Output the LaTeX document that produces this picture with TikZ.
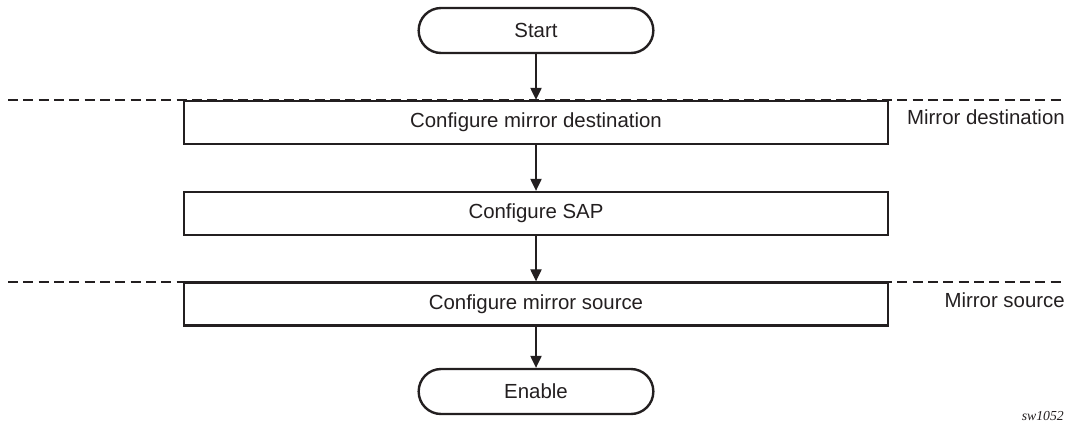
\documentclass[tikz,border=0pt]{standalone}
\usepackage{fontspec}
\setmainfont{Liberation Sans}
\newfontfamily\tagfont{Liberation Serif}
\usetikzlibrary{arrows.meta}
\definecolor{ink}{HTML}{231F20}

\begin{document}
\begin{tikzpicture}[x=0.75pt,y=-0.75pt,color=ink]
\tikzstyle{every node}=[font=\fontsize{15.3}{18}\selectfont,inner sep=0pt,text=ink];
\tikzstyle{term}=[draw,line width=1.8pt,fill=white,rounded corners=16.8pt,minimum width=176pt,minimum height=33.75pt];
\tikzstyle{task}=[draw,line width=1.8pt,fill=white,minimum width=528pt,minimum height=32.25pt];
\tikzstyle{flow}=[line width=0.9pt,-{Triangle[length=9pt,width=8.5pt]}];
\tikzstyle{divider}=[line width=1.6pt,dash pattern=on 7.5pt off 4pt];
\useasboundingbox (0,0) rectangle (1070,426);
% zone borders
\draw[divider] (8,100) -- (1065,100);
\draw[divider] (8,282) -- (1065,282);
% steps
\node[term] (start) at (536,30.5) {Start};
\node[task] (dest) at (536,122.5) {Configure mirror destination};
\node[task] (sap) at (536,213.5) {Configure SAP};
\node[task] (src) at (536,304) {Configure mirror source};
\node[term] (enable) at (536,391.5) {Enable};
\draw[flow] (start) -- (dest);
\draw[flow] (dest) -- (sap);
\draw[flow] (sap) -- (src);
\draw[flow] (src) -- (enable);
% zone names
\node[anchor=east] (destzone) at (1065,117) {Mirror destination};
\node[anchor=east] (srczone) at (1065,300) {Mirror source};
\node[anchor=base east,font=\tagfont\itshape\fontsize{10.3}{12}\selectfont] (tag) at (1064,420) {sw1052};
\end{tikzpicture}
\end{document}
